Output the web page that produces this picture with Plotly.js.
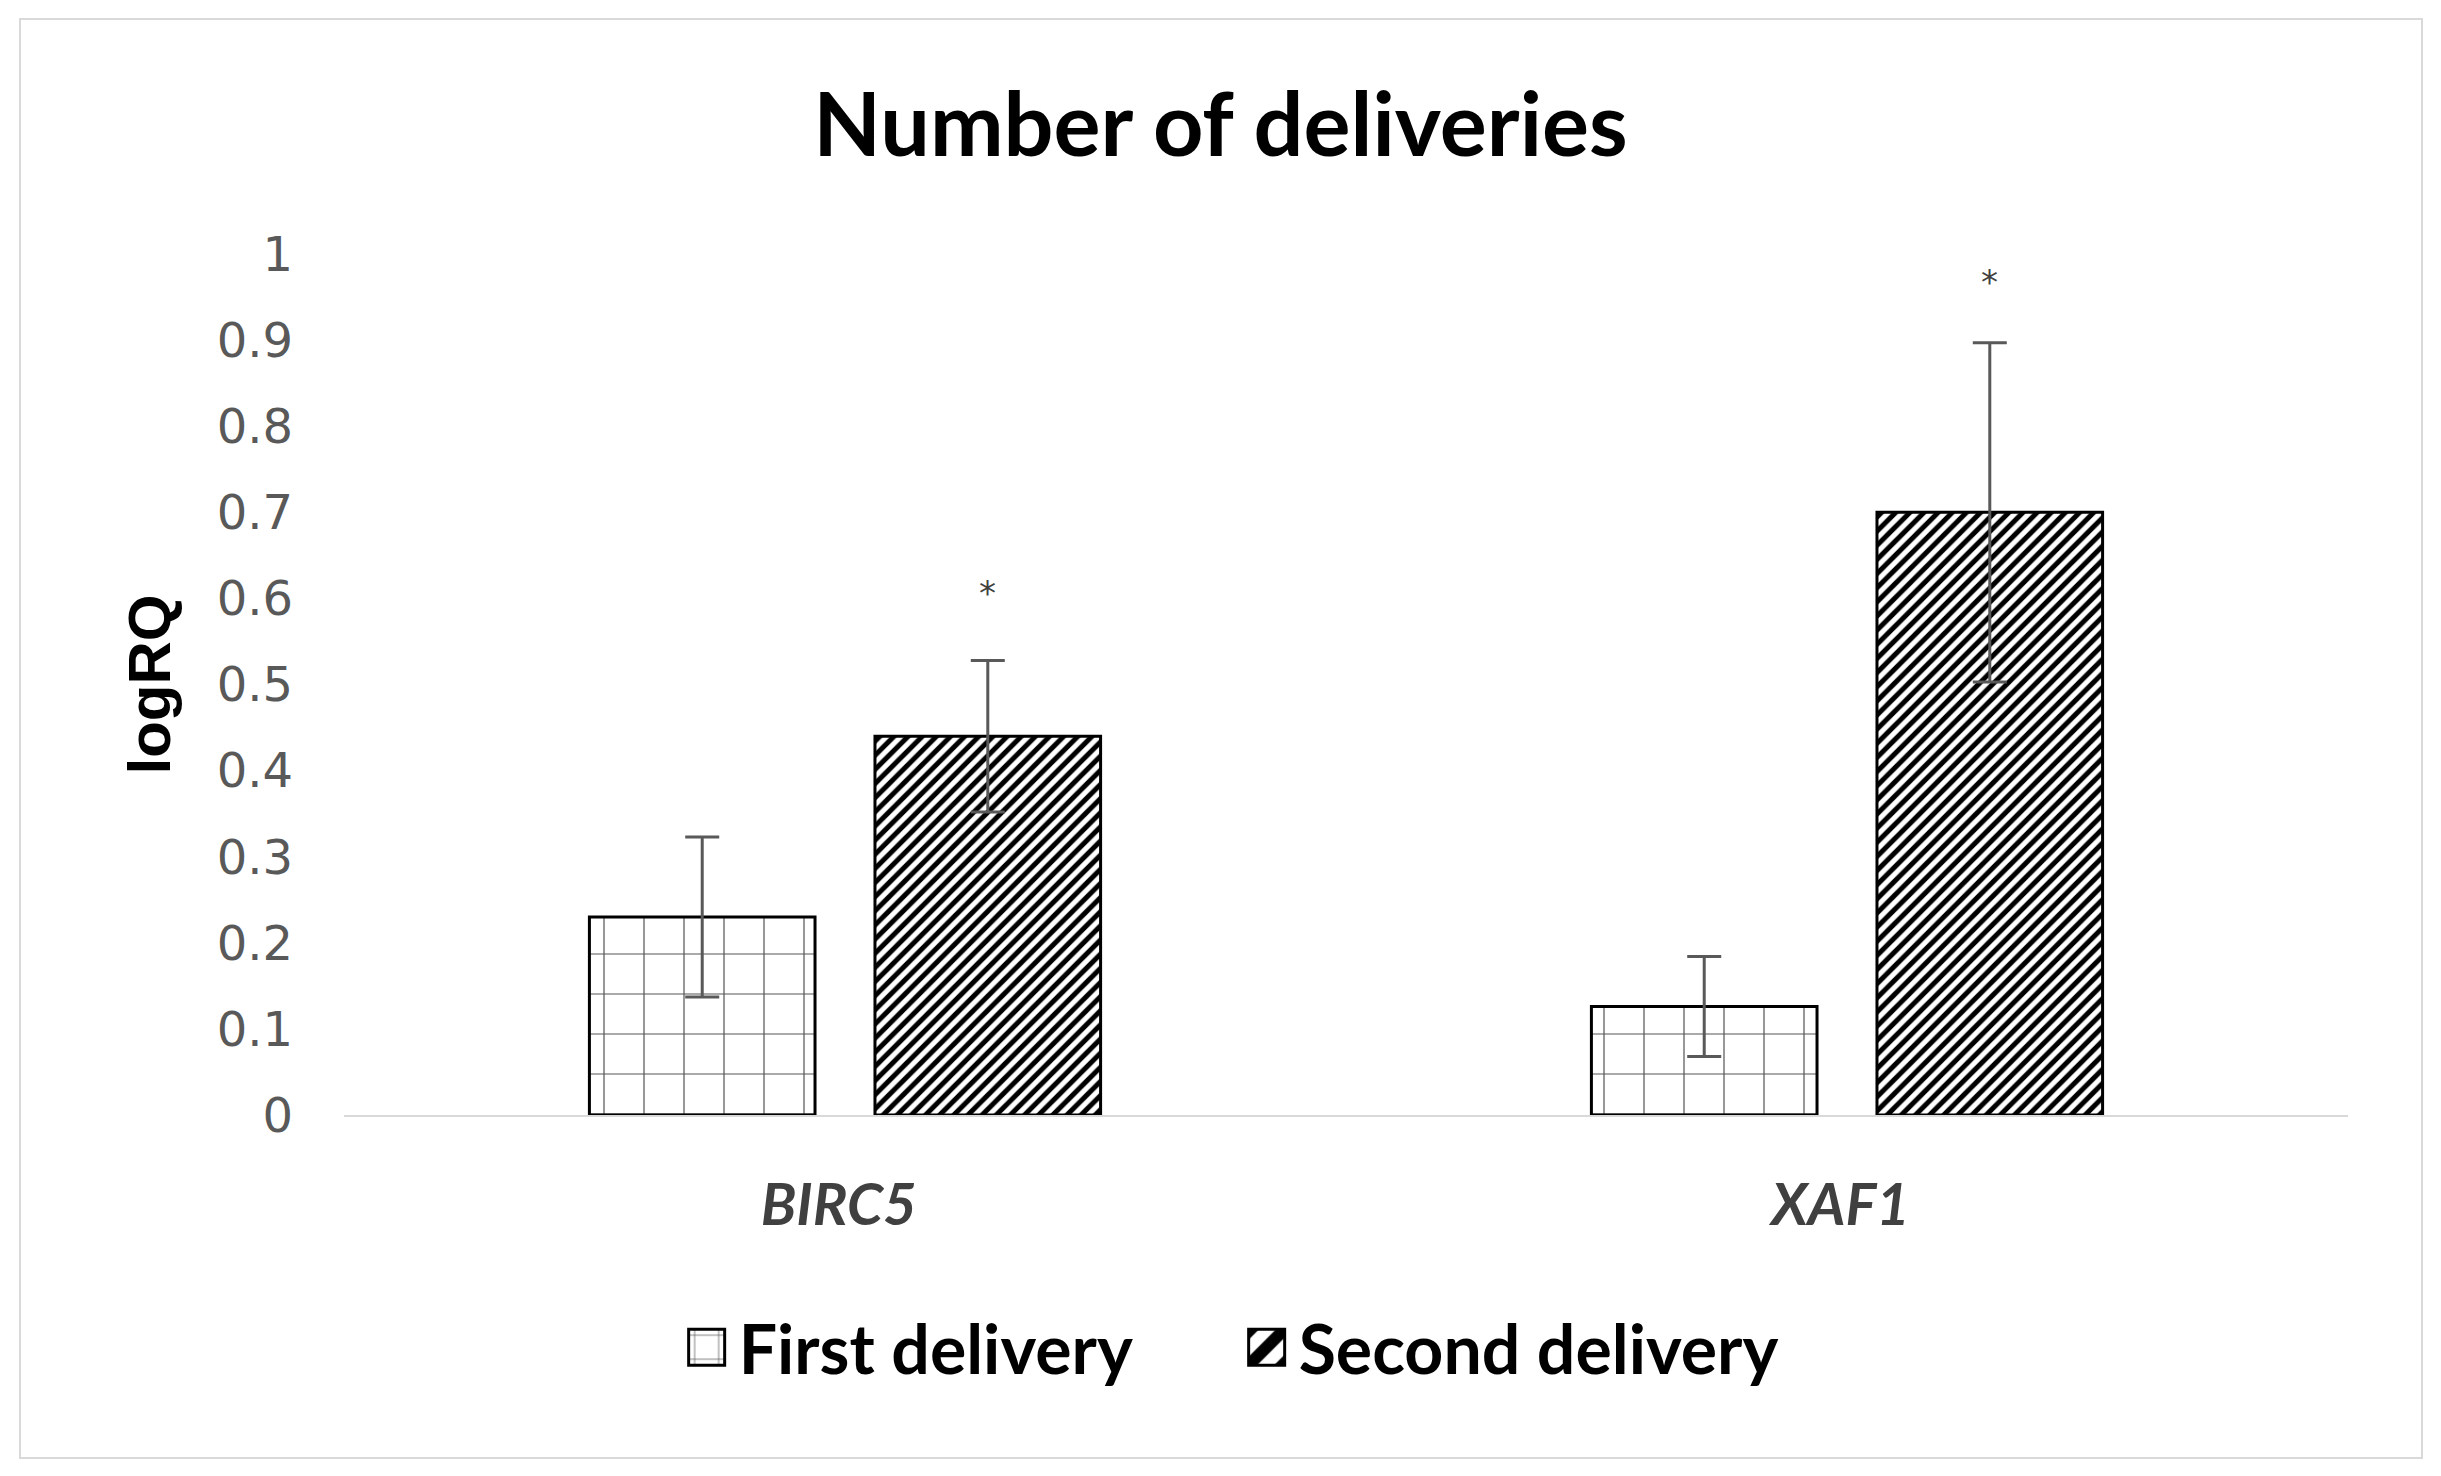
<!DOCTYPE html>
<html>
<head>
<meta charset="utf-8">
<script src="https://cdn.plot.ly/plotly-3.0.1.min.js"></script>
<style>
  body { margin: 0; background: #fff; }
  #plot { width: 2441px; height: 1476px; }
  #frame { position: absolute; left: 19px; top: 18px; width: 2400px; height: 1437px;
           border: 2px solid #d9d9d9; pointer-events: none; }
</style>
</head>
<body>
<div id="plot"></div>
<div id="frame"></div>
<script>
// values
const genes = ['BIRC5', 'XAF1']
const geneLabels = ['BIRC5\u00a0', 'XAF1\u00a0']
const firstDelivery = [0.23, 0.126]
const firstErr = [0.093, 0.058]
const secondDelivery = [0.44, 0.70]
const secondErr = [0.088, 0.197]
const sigText = ['*', '*']
const sigY = [0.606, 0.968]
const yTickVals = [0, 0.1, 0.2, 0.3, 0.4, 0.5, 0.6, 0.7, 0.8, 0.9, 1]
const yTickText = ['0', '0.1', '0.2', '0.3', '0.4', '0.5', '0.6', '0.7', '0.8', '0.9', '1']

const errStyle = {type: 'data', visible: true, symmetric: true, color: '#595959', thickness: 3, width: 17}

const first = {
  name: 'First delivery',
  type: 'bar',
  x: genes,
  y: firstDelivery,
  error_y: Object.assign({array: firstErr}, errStyle),
  marker: {
    color: 'white',
    line: {color: 'black', width: 3},
    pattern: {shape: '+', size: 40, solidity: 0.06, fgcolor: '#555555', bgcolor: 'white', fillmode: 'replace'}
  }
}

const second = {
  name: 'Second delivery',
  type: 'bar',
  x: genes,
  y: secondDelivery,
  error_y: Object.assign({array: secondErr}, errStyle),
  marker: {
    color: 'white',
    line: {color: 'black', width: 3},
    pattern: {shape: '/', size: 10, solidity: 0.5, fgcolor: 'black', bgcolor: 'white', fillmode: 'replace'}
  }
}

// significance stars above the second-delivery bars
const bargap = 0.43
const catPx = 2004 / genes.length
const starShift = (1 - bargap) * catPx / 4
const stars = genes.map(function (g, i) {
  return {
    x: g, y: sigY[i], xref: 'x', yref: 'y', text: sigText[i], showarrow: false,
    xshift: starShift, font: {family: 'DejaVu Sans', size: 34, color: '#404040'}
  }
})

const layout = {
  width: 2441,
  height: 1476,
  margin: {l: 344, r: 93, t: 254, b: 361},
  paper_bgcolor: 'white',
  plot_bgcolor: 'white',
  barmode: 'group',
  bargap: bargap,
  bargroupgap: 0.21,
  title: {
    text: '<b>Number of deliveries</b>',
    font: {family: 'Lato', size: 88, color: 'black'},
    x: 0.5, xref: 'container', xanchor: 'center',
    y: 0.915, yref: 'container', yanchor: 'middle'
  },
  xaxis: {
    type: 'category',
    range: [-0.5, 1.5],
    tickvals: genes,
    ticktext: geneLabels,
    showline: true,
    linecolor: '#d9d9d9',
    linewidth: 2,
    showgrid: false,
    ticks: '',
    ticklabelstandoff: 38,
    tickfont: {family: 'Lato', size: 58, color: '#404040', weight: 'bold', style: 'italic'}
  },
  yaxis: {
    range: [0, 1],
    tickvals: yTickVals,
    ticktext: yTickText,
    showline: false,
    showgrid: false,
    zeroline: false,
    ticks: '',
    ticklabelstandoff: 50,
    tickfont: {family: 'DejaVu Sans', size: 48, color: '#595959'},
    title: {
      text: '<b>logRQ</b>',
      font: {family: 'Liberation Sans', size: 60, color: 'black'},
      standoff: 26
    }
  },
  legend: {
    orientation: 'h',
    x: 0.165, xanchor: 'left',
    y: -0.27, yanchor: 'middle',
    font: {family: 'Lato', size: 68, color: 'black', weight: 'bold'},
    itemwidth: 54,
    entrywidth: 491
  },
  annotations: stars,
  showlegend: true
}

Plotly.newPlot('plot', [first, second], layout, {displayModeBar: false, staticPlot: true}).then(function () {
  // enlarge the tiny legend swatches to the size used in the figure
  document.querySelectorAll('.legend .legendpoints path').forEach(function (p) {
    const t = p.getAttribute('transform') || ''
    p.setAttribute('transform', t + ' scale(3)')
    p.style.strokeWidth = '1px'
  })
})
</script>
</body>
</html>
